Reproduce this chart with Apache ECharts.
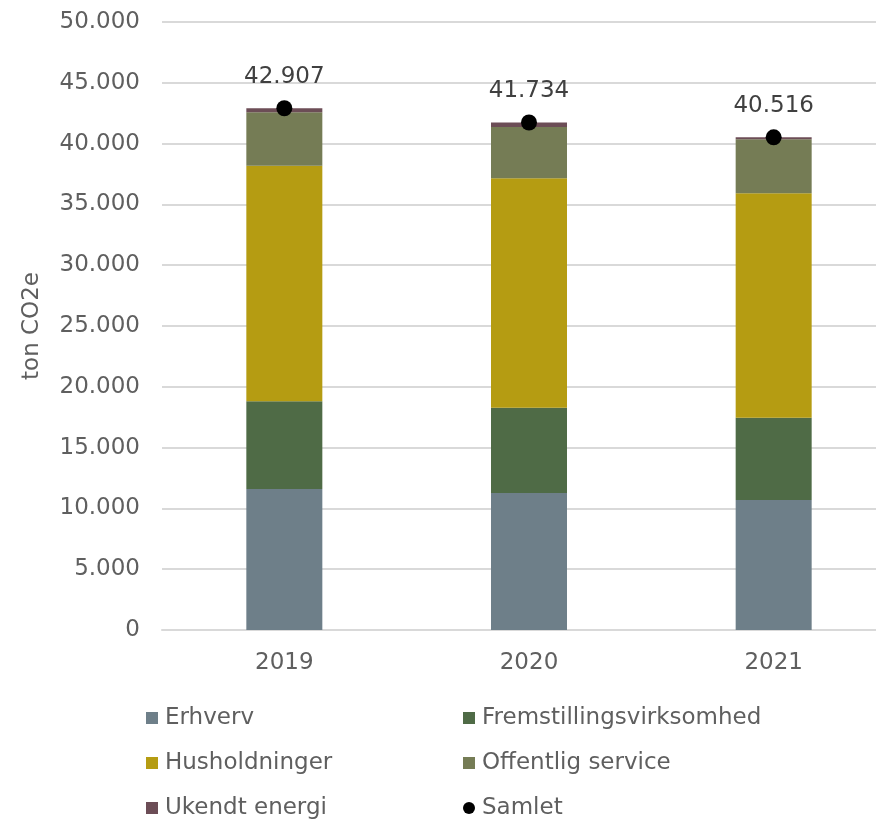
<!DOCTYPE html>
<html>
<head>
<meta charset="utf-8">
<style>
  html, body { margin: 0; padding: 0; background: #ffffff; overflow: hidden; }
  #chart { width: 896px; height: 819px; }
</style>
<script src="https://cdn.jsdelivr.net/npm/echarts@6/dist/echarts.min.js"></script>
</head>
<body>
<div id="chart"></div>
<script>
// Years on the category axis
const years = ['2019', '2020', '2021'];

// Emissions per sector, ton CO2e
const erhverv = [11600, 11270, 10690];
const fremstilling = [7210, 7010, 6770];
const husholdninger = [19375, 18865, 18450];
const offentlig = [4390, 4220, 4440];
const ukendt = [332, 369, 166];
const samlet = [42907, 41734, 40516];

const seriesNames = ['Erhverv', 'Fremstillingsvirksomhed', 'Husholdninger', 'Offentlig service', 'Ukendt energi', 'Samlet'];
const colors = ['#6e7f89', '#4f6b46', '#b59c12', '#757c55', '#6c4d56', '#000000'];

const FONT = 'DejaVu Sans';
const TEXT = '#5f5f5f';
const FS = 23;

// Danish thousands separator
function fmt(v) {
  return String(Math.round(v)).replace(/\B(?=(\d{3})+(?!\d))/g, '.');
}

function barSeries(name, data, color) {
  return {
    name: name,
    type: 'bar',
    stack: 'total',
    barWidth: 76,
    data: data,
    itemStyle: { color: color },
    emphasis: { disabled: true }
  };
}

// One legend block per entry, laid out in two columns of three rows
const legendCols = [146, 463];
const legendRows = [706, 751, 796];
const legends = seriesNames.map(function (name, i) {
  return {
    data: [{ name: name, icon: name === 'Samlet' ? 'circle' : 'rect' }],
    left: legendCols[i % 2],
    top: legendRows[Math.floor(i / 2)],
    padding: 0,
    itemWidth: 12,
    itemHeight: 12,
    itemGap: 0,
    selectedMode: false,
    textStyle: { fontFamily: FONT, fontSize: FS, color: TEXT, lineHeight: 24, padding: [0, 0, 0, 2] }
  };
});

const chart = echarts.init(document.getElementById('chart'), null, { renderer: 'canvas' });
chart.setOption({
  animation: false,
  color: colors,
  legend: legends,
  grid: { left: 162, top: 22, right: 0, height: 608, containLabel: false },
  xAxis: {
    type: 'category',
    data: years,
    boundaryGap: true,
    axisLine: { show: true, lineStyle: { color: '#d9d9d9', width: 2 } },
    axisTick: { show: false },
    axisLabel: { fontFamily: FONT, fontSize: FS, color: TEXT, margin: 22 }
  },
  yAxis: {
    type: 'value',
    min: 0,
    max: 50000,
    interval: 5000,
    name: 'ton CO2e',
    nameLocation: 'middle',
    nameGap: 118,
    nameTextStyle: { fontFamily: FONT, fontSize: FS, color: TEXT },
    axisLine: { show: false },
    axisTick: { show: false },
    splitLine: { lineStyle: { color: '#d9d9d9', width: 2 } },
    axisLabel: { fontFamily: FONT, fontSize: FS, color: TEXT, margin: 22, formatter: fmt }
  },
  series: [
    barSeries(seriesNames[0], erhverv, colors[0]),
    barSeries(seriesNames[1], fremstilling, colors[1]),
    barSeries(seriesNames[2], husholdninger, colors[2]),
    barSeries(seriesNames[3], offentlig, colors[3]),
    barSeries(seriesNames[4], ukendt, colors[4]),
    {
      name: seriesNames[5],
      type: 'scatter',
      data: samlet,
      symbol: 'circle',
      symbolSize: 16,
      z: 5,
      itemStyle: { color: '#000000', opacity: 1 },
      label: {
        show: true,
        position: 'top',
        distance: 12,
        fontFamily: FONT,
        fontSize: FS,
        color: '#404040',
        formatter: function (p) { return fmt(p.value); }
      },
      emphasis: { disabled: true }
    }
  ]
});
</script>
</body>
</html>
